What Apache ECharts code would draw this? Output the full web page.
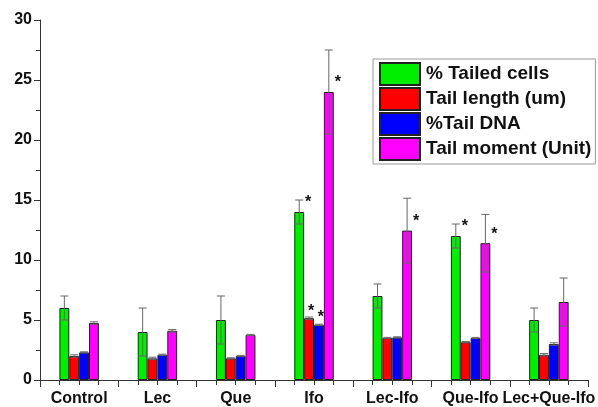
<!DOCTYPE html>
<html>
<head>
<meta charset="utf-8">
<script src="https://cdn.jsdelivr.net/npm/echarts@6/dist/echarts.min.js"></script>
<style>
  html, body { margin: 0; padding: 0; background: #fff; }
  #chart { width: 598px; height: 407px; }
</style>
</head>
<body>
<div id="chart"></div>
<script>
const groups = ['Control', 'Lec', 'Que', 'Ifo', 'Lec-Ifo', 'Que-Ifo', 'Lec+Que-Ifo'];
const seriesNames = ['% Tailed cells', 'Tail length (um)', '%Tail DNA', 'Tail moment (Unit)'];
const seriesColors = ['#00ee00', '#ff0000', '#0000ff', '#ff00ff'];

const tailedCells = [6, 4, 5, 14, 7, 12, 5];
const tailLength = [2, 1.8, 1.8, 5.15, 3.5, 3.15, 2.1];
const tailDna = [2.3, 2.1, 2.0, 4.6, 3.55, 3.5, 3.0];
const tailMoment = [4.75, 4.1, 3.75, 24, 12.45, 11.4, 6.5];

const tailedCellsErr = [1, 2, 2, 1, 1, 1, 1];
const tailLengthErr = [0.1, 0.1, 0.05, 0.1, 0.05, 0.05, 0.1];
const tailDnaErr = [0.05, 0.05, 0.05, 0.05, 0.05, 0.05, 0.1];
const tailMomentErr = [0.1, 0.1, 0.05, 3.5, 2.7, 2.4, 2];

// 1 = significant (asterisk)
const tailedCellsSig = [0, 0, 0, 1, 0, 1, 0];
const tailLengthSig = [0, 0, 0, 1, 0, 0, 0];
const tailDnaSig = [0, 0, 0, 1, 0, 0, 0];
const tailMomentSig = [0, 0, 0, 1, 1, 1, 0];

const yTicks = [0, 5, 10, 15, 20, 25, 30];

const values = [tailedCells, tailLength, tailDna, tailMoment];
const errors = [tailedCellsErr, tailLengthErr, tailDnaErr, tailMomentErr];
const sigs = [tailedCellsSig, tailLengthSig, tailDnaSig, tailMomentSig];

const chart = echarts.init(document.getElementById('chart'));

const barSeries = seriesNames.map((name, k) => ({
  name: name,
  type: 'bar',
  xAxisIndex: 0,
  data: values[k],
  barWidth: '12.6%',
  barGap: '0%',
  itemStyle: { color: seriesColors[k], borderColor: '#222', borderWidth: 1 },
  emphasis: { disabled: true },
  z: 2
}));

const errSeries = seriesNames.map((name, k) => ({
  name: name + ' err',
  type: 'custom',
  xAxisIndex: 0,
  z: 3,
  data: values[k].map((v, i) => [i, v, errors[k][i], sigs[k][i]]),
  renderItem: function (params, api) {
    const i = api.value(0), v = api.value(1), e = api.value(2), s = api.value(3);
    const band = api.size([1, 0])[0];
    const x = api.coord([i, v])[0] + (k - 1.5) * band * 0.126;
    const yTop = api.coord([i, v + e])[1];
    const yBot = api.coord([i, v - e])[1];
    const yBar = api.coord([i, v])[1];
    const st = { stroke: '#666', lineWidth: 1 };
    const kids = [
      { type: 'line', shape: { x1: x, y1: yTop, x2: x, y2: yBot }, style: st },
      { type: 'line', shape: { x1: x - 4, y1: yTop, x2: x + 4, y2: yTop }, style: st },
      { type: 'line', shape: { x1: x - 4, y1: yBot, x2: x + 4, y2: yBot }, style: st }
    ];
    if (s) {
      const small = e < 0.5;
      kids.push({
        type: 'text',
        style: {
          text: '*',
          x: small ? x + 2 : x + 9,
          y: small ? yBar - 7 : yBar - 9,
          fill: '#111',
          font: 'bold 16px Arial',
          align: 'center',
          verticalAlign: 'middle'
        }
      });
    }
    return { type: 'group', children: kids };
  }
}));

chart.setOption({
  backgroundColor: '#fff',
  animation: false,
  legend: {
    data: seriesNames,
    orient: 'vertical',
    left: 373,
    top: 59,
    itemWidth: 40,
    itemHeight: 22,
    itemGap: 1,
    padding: [3, 4, 3, 6],
    borderColor: '#999',
    borderWidth: 1,
    icon: 'rect',
    textStyle: { fontFamily: 'Arial', fontWeight: 'bold', fontSize: 19, color: '#111', padding: [0, 0, 0, 1] }
  },
  grid: { left: 40, right: 5, top: 20, bottom: 25, containLabel: false },
  xAxis: [
    {
      type: 'category',
      data: groups,
      axisLine: { lineStyle: { color: '#333', width: 1 } },
      axisTick: { show: true, length: 7, lineStyle: { color: '#333' } },
      axisLabel: { fontFamily: 'Arial', fontWeight: 'bold', fontSize: 16, color: '#111', margin: 11, interval: 0 },
      splitLine: { show: false }
    },
    {
      type: 'value',
      position: 'bottom',
      min: 0,
      max: groups.length,
      interval: 0.25,
      axisLine: { show: false },
      axisTick: { show: true, length: 5, lineStyle: { color: '#333' } },
      axisLabel: { show: false },
      splitLine: { show: false }
    }
  ],
  yAxis: {
    type: 'value',
    min: yTicks[0],
    max: yTicks[yTicks.length - 1],
    interval: 5,
    axisLine: { show: true, lineStyle: { color: '#333', width: 1 } },
    axisTick: { show: true, length: 6, lineStyle: { color: '#333' } },
    minorTick: { show: true, splitNumber: 2, length: 4, lineStyle: { color: '#333' } },
    axisLabel: { fontFamily: 'Arial', fontWeight: 'bold', fontSize: 16, color: '#111', margin: 8 },
    splitLine: { show: false }
  },
  series: barSeries.concat(errSeries)
});
</script>
</body>
</html>
